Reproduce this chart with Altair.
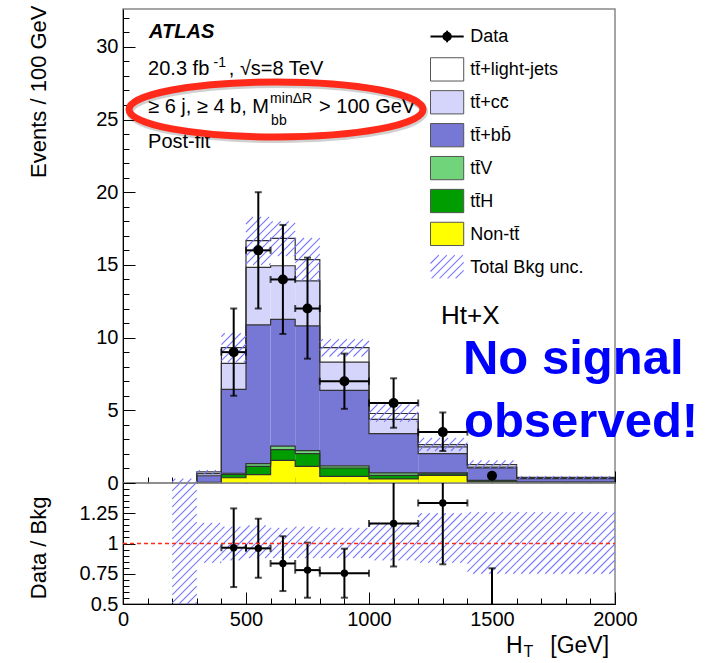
import math
import altair as alt
import pandas as pd

# ---------------- data ----------------
bin_lo = [300, 400, 500, 600, 700, 800, 1000, 1200, 1400, 1600]
bin_hi = [400, 500, 600, 700, 800, 1000, 1200, 1400, 1600, 2000]

comp_labels = ["Non-tt\u0304", "tt\u0304H", "tt\u0304V", "tt\u0304+bb\u0304", "tt\u0304+cc\u0304", "tt\u0304+light-jets"]
comp_colors = ["#ffff00", "#009d00", "#70d57a", "#7777d5", "#d5d5fb", "#ffffff"]
nontt   = [0.02, 0.36, 0.58, 1.56, 1.15, 0.46, 0.28, 0.53, 0.05, 0.03]
tth     = [0.01, 0.24, 0.57, 0.74, 0.87, 0.57, 0.25, 0.10, 0.08, 0.02]
ttv     = [0.01, 0.07, 0.18, 0.23, 0.21, 0.15, 0.16, 0.06, 0.05, 0.02]
ttbb    = [0.46, 5.77, 9.54, 8.73, 8.57, 5.19, 2.71, 1.33, 0.86, 0.23]
ttcc    = [0.14, 1.79, 3.96, 3.68, 3.10, 1.95, 0.97, 0.46, 0.06, 0.04]
ttlight = [0.12, 1.08, 1.84, 1.89, 1.46, 0.99, 0.41, 0.16, 0.17, 0.05]
components = [nontt, tth, ttv, ttbb, ttcc, ttlight]

band_lo_x = [200, 300, 400, 500, 600, 700, 800, 1000, 1200, 1400, 1600]
band_hi_x = [300, 400, 500, 600, 700, 800, 1000, 1200, 1400, 1600, 2000]
band_lo = [0.0, 0.60, 8.3, 15.0, 15.6, 13.9, 8.7, 4.2, 2.2, 1.00, 0.28]
band_hi = [0.3, 0.88, 10.3, 18.3, 18.0, 16.85, 9.9, 5.4, 3.1, 1.55, 0.48]
ratio_band_lo = [0.5, 0.84, 0.86, 0.88, 0.88, 0.88, 0.88, 0.86, 0.84, 0.75, 0.75]
ratio_band_hi = [1.5, 1.17, 1.14, 1.15, 1.13, 1.14, 1.13, 1.17, 1.25, 1.26, 1.26]

data_x   = [450, 550, 650, 750, 900, 1100, 1300, 1500]
data_xlo = [400, 500, 600, 700, 800, 1000, 1200, 1500]
data_xhi = [500, 600, 700, 800, 1000, 1200, 1400, 1500]
data_y   = [9.0, 16.0, 14.0, 12.0, 7.0, 5.5, 3.5, 0.5]
data_ylo = [6.0, 12.0, 10.25, 8.55, 5.1, 3.8, 2.2, 0.5]
data_yhi = [12.0, 20.0, 17.75, 15.5, 8.9, 7.2, 4.85, 0.5]

ratio_xlo = [400, 500, 600, 700, 800, 1000, 1200, 1400]
ratio_xhi = [500, 600, 700, 800, 1000, 1200, 1400, 1600]
ratio_y   = [0.965, 0.96, 0.835, 0.78, 0.755, 1.165, 1.335, 0.39]
ratio_ylo = [0.64, 0.717, 0.607, 0.552, 0.552, 0.81, 0.828, 0.2]
ratio_yhi = [1.29, 1.205, 1.06, 1.007, 0.957, 1.6, 1.6, 0.795]

main_y_labels = [0, 5, 10, 15, 20, 25, 30]
ratio_y_labels = [0.5, 0.75, 1, 1.25]
x_labels = [0, 500, 1000, 1500, 2000]

# ---------------- layout / style ----------------
W, HM, HR = 492, 474, 121
YMAX = 32.6
KX, KYM, KYR = W / 2000, HM / YMAX, HR / 1.0
HATCH = "#7878ff"
RED = "#ff2a1a"
FONT = "Liberation Sans"

xs = alt.Scale(domain=[0, 2000], nice=False, zero=False)
ysm = alt.Scale(domain=[0, YMAX], nice=False, zero=False)
ysr = alt.Scale(domain=[0.5, 1.5], nice=False, zero=False)


def hatch(rects, ky, yref, s=8.0):
    rows = []
    for (xa, xb, ya, yb) in rects:
        X0, X1 = xa * KX, xb * KX
        Y0, Y1 = (ya - yref) * ky, (yb - yref) * ky
        for k in range(math.ceil((X0 - Y1) / s), math.floor((X1 - Y0) / s) + 1):
            c = k * s
            a, b = max(X0, Y0 + c), min(X1, Y1 + c)
            if b - a > 0.6:
                rows.append(dict(x=a / KX, y=(a - c) / ky + yref,
                                 x2=b / KX, y2=(b - c) / ky + yref))
    return pd.DataFrame(rows)


def tick_axis(orient, values, size):
    return alt.Axis(orient=orient, values=values, labels=False, ticks=True,
                    tickSize=size, offset=-size, domain=False, grid=False,
                    title=None, tickColor="black", tickWidth=1)


def X(field, axis=None):
    return alt.X(field, scale=xs, axis=axis)


# ---------------- main panel ----------------
stack_rows, step_rows = [], []
for i in range(len(bin_lo)):
    cum = 0.0
    for j, comp in enumerate(components):
        stack_rows.append(dict(x=bin_lo[i], x2=bin_hi[i], lo=cum, hi=cum + comp[i], comp=comp_labels[j]))
        cum += comp[i]
for j in range(len(components)):
    tops = [sum(components[k][i] for k in range(j + 1)) for i in range(len(bin_lo))]
    pts = [(bin_lo[0], 0.0)] + list(zip(bin_lo, tops)) + [(bin_hi[-1], tops[-1]), (bin_hi[-1], 0.0)]
    for n, (px, py) in enumerate(pts):
        step_rows.append(dict(x=px, y=py, lvl=j, i=n))
stack_df = pd.DataFrame(stack_rows)
step_df = pd.DataFrame(step_rows)

def YM(field, axis=None):
    return alt.Y(field, scale=ysm, axis=axis)

rects = alt.Chart(stack_df).mark_rect(clip=True).encode(
    x=X("x:Q", tick_axis("bottom", list(range(0, 2001, 100)), 6)),
    x2="x2:Q",
    y=YM("lo:Q", alt.Axis(orient="left", values=main_y_labels, ticks=False, labelPadding=5,
                          labelFontSize=20, labelFlush=False, labelOverlap=False,
                          labelExpr="toString(datum.value)",
                          domain=True, domainColor="black", grid=False,
                          title="Events / 100 GeV", titleFontSize=22, titleFontWeight="normal",
                          titleX=-85, titleY=-4, titleAlign="right", titleBaseline="middle",
                          titleAngle=270)),
    y2="hi:Q",
    color=alt.Color("comp:N", scale=alt.Scale(domain=comp_labels, range=comp_colors), legend=None),
)

steps = alt.Chart(step_df).mark_line(interpolate="step-after", clip=True, stroke="#333333",
                                     strokeWidth=1.2).encode(
    x=X("x:Q", tick_axis("bottom", x_labels, 12)),
    y=YM("y:Q", tick_axis("left", main_y_labels, 12)),
    detail="lvl:N", order="i:Q",
)

band_df = hatch(list(zip(band_lo_x, band_hi_x, band_lo, band_hi)), KYM, 0.0)
band = alt.Chart(band_df).mark_rule(stroke=HATCH, color=HATCH, strokeWidth=1.1, clip=True).encode(
    x=X("x:Q"), x2="x2:Q",
    y=YM("y:Q", tick_axis("left", list(range(0, 33)), 6)), y2="y2:Q",
)

dmain = pd.DataFrame(dict(x=data_x, xlo=data_xlo, xhi=data_xhi, y=data_y, ylo=data_ylo, yhi=data_yhi))
verr = alt.Chart(dmain[dmain.ylo < dmain.yhi]).mark_errorbar(ticks=True, size=7, thickness=2, color="black").encode(
    x=X("x:Q"), y=YM("ylo:Q"), y2="yhi:Q")
herr = alt.Chart(dmain[dmain.xlo < dmain.xhi]).mark_errorbar(ticks=True, size=7, thickness=2, color="black").encode(
    x=X("xlo:Q"), x2="xhi:Q", y=YM("y:Q"))
dots = alt.Chart(dmain).mark_circle(size=100, color="black", opacity=1).encode(x=X("x:Q"), y=YM("y:Q"))

# legend (drawn in the main panel's data space)
LX0, LX1, LTX = 1250, 1385, 1412
leg_rows = [30.71 - 2.263 * k for k in range(8)]
leg_names = ["Data", "tt\u0304+light-jets", "tt\u0304+cc\u0304", "tt\u0304+bb\u0304", "tt\u0304V", "tt\u0304H", "Non-tt\u0304", "Total Bkg unc."]
leg_box_df = pd.DataFrame(dict(
    x=[LX0] * 6, x2=[LX1] * 6,
    y=[leg_rows[k] - 0.8 for k in range(1, 7)], y2=[leg_rows[k] + 0.8 for k in range(1, 7)],
    comp=comp_labels[::-1]))
leg_boxes = alt.Chart(leg_box_df).mark_rect(stroke="#555555", strokeWidth=1).encode(
    x=X("x:Q"), x2="x2:Q", y=YM("y:Q"), y2="y2:Q",
    color=alt.Color("comp:N", scale=alt.Scale(domain=comp_labels, range=comp_colors), legend=None))
leg_text = alt.Chart(pd.DataFrame(dict(x=[LTX] * 8, y=leg_rows, t=leg_names))).mark_text(
    align="left", baseline="middle", fontSize=18, font=FONT, color="black", dy=1).encode(
    x=X("x:Q"), y=YM("y:Q"), text="t:N")
leg_data_line = alt.Chart(pd.DataFrame(dict(x=[LX0], x2=[LX1], y=[leg_rows[0]]))).mark_rule(
    stroke="black", strokeWidth=2).encode(x=X("x:Q"), x2="x2:Q", y=YM("y:Q"))
leg_data_v = alt.Chart(pd.DataFrame(dict(x=[(LX0 + LX1) / 2], y=[leg_rows[0] - 0.4], y2=[leg_rows[0] + 0.4]))).mark_rule(
    stroke="black", strokeWidth=2).encode(x=X("x:Q"), y=YM("y:Q"), y2="y2:Q")
leg_data_dot = alt.Chart(pd.DataFrame(dict(x=[(LX0 + LX1) / 2], y=[leg_rows[0]]))).mark_circle(
    size=90, color="black", opacity=1).encode(x=X("x:Q"), y=YM("y:Q"))
leg_hatch = alt.Chart(hatch([(LX0, LX1, leg_rows[7] - 0.8, leg_rows[7] + 0.8)], KYM, 0.0)).mark_rule(
    stroke=HATCH, color=HATCH, strokeWidth=1.1).encode(x=X("x:Q"), x2="x2:Q", y=YM("y:Q"), y2="y2:Q")


def texts(rows, **mk):
    df = pd.DataFrame(rows, columns=["x", "y", "t"])
    return alt.Chart(df).mark_text(align=mk.pop("align", "left"), baseline="alphabetic",
                                   font=FONT, **mk).encode(x=X("x:Q"), y=YM("y:Q"), text="t:N")


atlas = texts([(106, 30.58, "ATLAS")], fontSize=20, fontWeight="bold", fontStyle="italic", color="black")
info = texts([(102, 28.06, "20.3 fb"), (430, 28.06, ", \u221as=8 TeV"),
              (102, 25.47, "\u2265 6 j, \u2265 4 b, M"), (797, 25.47, "> 100 GeV"),
              (102, 23.06, "Post-fit")], fontSize=20, color="black")
info_small = texts([(368, 28.61, "-1"), (598, 26.16, "min\u0394R"), (602, 24.62, "bb")],
                   fontSize=14, color="black")
htx = texts([(1293, 10.94, "Ht+X")], fontSize=26, color="black")
nosig = texts([(1382, 7.5, "No signal"), (1386, 3.16, "observed!")], fontSize=49,
              fontWeight="bold", color="#0000ff")

ell_path = "M -1 0 A 1 0.187 0 1 1 1 0 A 1 0.187 0 1 1 -1 0 Z"
ell_df = pd.DataFrame(dict(x=[622], y=[25.69]))
ell_shadow = alt.Chart(ell_df).mark_point(shape=ell_path, size=86436, filled=False, stroke="#000000",
                                          strokeWidth=8, opacity=0.18, yOffset=2, xOffset=1).encode(
    x=X("x:Q"), y=YM("y:Q"))
ellipse = alt.Chart(ell_df).mark_point(shape=ell_path, size=86436, filled=False, stroke=RED,
                                       strokeWidth=7, opacity=1).encode(x=X("x:Q"), y=YM("y:Q"))

main = alt.layer(
    rects, steps, band, verr, herr, dots,
    leg_boxes, leg_hatch, leg_data_line, leg_data_v, leg_data_dot, leg_text,
    atlas, info, info_small, htx, ell_shadow, ellipse, nosig,
).resolve_axis(x="independent", y="independent").properties(width=W, height=HM)

# ---------------- ratio panel ----------------
def YR(field, axis=None):
    return alt.Y(field, scale=ysr, axis=axis)

rband_df = hatch(list(zip(band_lo_x, band_hi_x, ratio_band_lo, ratio_band_hi)), KYR, 0.5)
rband = alt.Chart(rband_df).mark_rule(stroke=HATCH, color=HATCH, strokeWidth=1.1, clip=True).encode(
    x=X("x:Q", alt.Axis(orient="bottom", values=x_labels, ticks=False, labelPadding=5, labelFontSize=20,
                        labelFlush=False, labelOverlap=False, labelExpr="toString(datum.value)",
                        domain=True, domainColor="black", grid=False, title=None)),
    x2="x2:Q",
    y=YR("y:Q", alt.Axis(orient="left", values=ratio_y_labels, ticks=False, labelPadding=5,
                         labelExpr="toString(datum.value)",
                         labelFontSize=20, labelFlush=False, labelOverlap=False, domain=True,
                         domainColor="black", grid=False, title="Data / Bkg", titleFontSize=22,
                         titleFontWeight="normal", titleX=-85, titleY=13, titleAlign="right",
                         titleBaseline="middle", titleAngle=270)),
    y2="y2:Q",
)
one_df = pd.DataFrame(dict(x=[0.0], x2=[2000.0], y=[1.0]))
one_line = alt.Chart(one_df).mark_rule(strokeDash=[4, 3]).encode(
    x=X("x:Q"), x2="x2:Q", y=YR("y:Q"),
    stroke=alt.value(RED), strokeWidth=alt.value(1.3), opacity=alt.value(1))
dratio = pd.DataFrame(dict(x=data_x, xlo=ratio_xlo, xhi=ratio_xhi, y=ratio_y, ylo=ratio_ylo, yhi=ratio_yhi))
rverr = alt.Chart(dratio).mark_errorbar(ticks=True, size=7, thickness=2, color="black", clip=True).encode(
    x=X("x:Q"), y=YR("ylo:Q"), y2="yhi:Q")
rherr = alt.Chart(dratio).mark_errorbar(ticks=True, size=7, thickness=2, color="black", clip=True).encode(
    x=X("xlo:Q"), x2="xhi:Q", y=YR("y:Q"))
rdots = alt.Chart(dratio).mark_circle(size=55, color="black", opacity=1, clip=True).encode(
    x=X("x:Q", tick_axis("bottom", x_labels, 12)),
    y=YR("y:Q", tick_axis("left", [0.5, 0.75, 1, 1.25, 1.5], 12)))

xt_df = pd.DataFrame(dict(x=[1557, 1976], y=[0.095, 0.095], t=["H", "[GeV]"]))
xt_big = alt.Chart(xt_df.iloc[[0]]).mark_text(align="left", baseline="alphabetic", fontSize=23, font=FONT,
                                              color="black").encode(
    x=X("x:Q", tick_axis("bottom", list(range(0, 2001, 100)), 6)),
    y=YR("y:Q", tick_axis("left", [round(0.5 + 0.05 * k, 2) for k in range(21)], 6)),
    text="t:N")
xt_gev = alt.Chart(xt_df.iloc[[1]]).mark_text(align="right", baseline="alphabetic", fontSize=23, font=FONT,
                                              color="black").encode(x=X("x:Q"), y=YR("y:Q"), text="t:N")
xt_sub = alt.Chart(pd.DataFrame(dict(x=[1628], y=[0.058], t=["T"]))).mark_text(
    align="left", baseline="alphabetic", fontSize=16, font=FONT, color="black").encode(
    x=X("x:Q"), y=YR("y:Q"), text="t:N")

ratio = alt.layer(
    rband, rverr, rherr, one_line, rdots, xt_big, xt_gev, xt_sub
).resolve_axis(x="independent", y="independent").properties(width=W, height=HR)

chart = alt.vconcat(main, ratio, spacing=0, bounds="flush").properties(
    padding={"left": 26, "top": 4, "right": 0, "bottom": 0},
    background="white",
).configure(font=FONT).configure_view(stroke="#888888", strokeWidth=1.5).configure_axis(
    labelFont=FONT, titleFont=FONT, labelColor="black", titleColor="black")

chart.save("out.html", embed_options={"renderer": "svg", "actions": False})
